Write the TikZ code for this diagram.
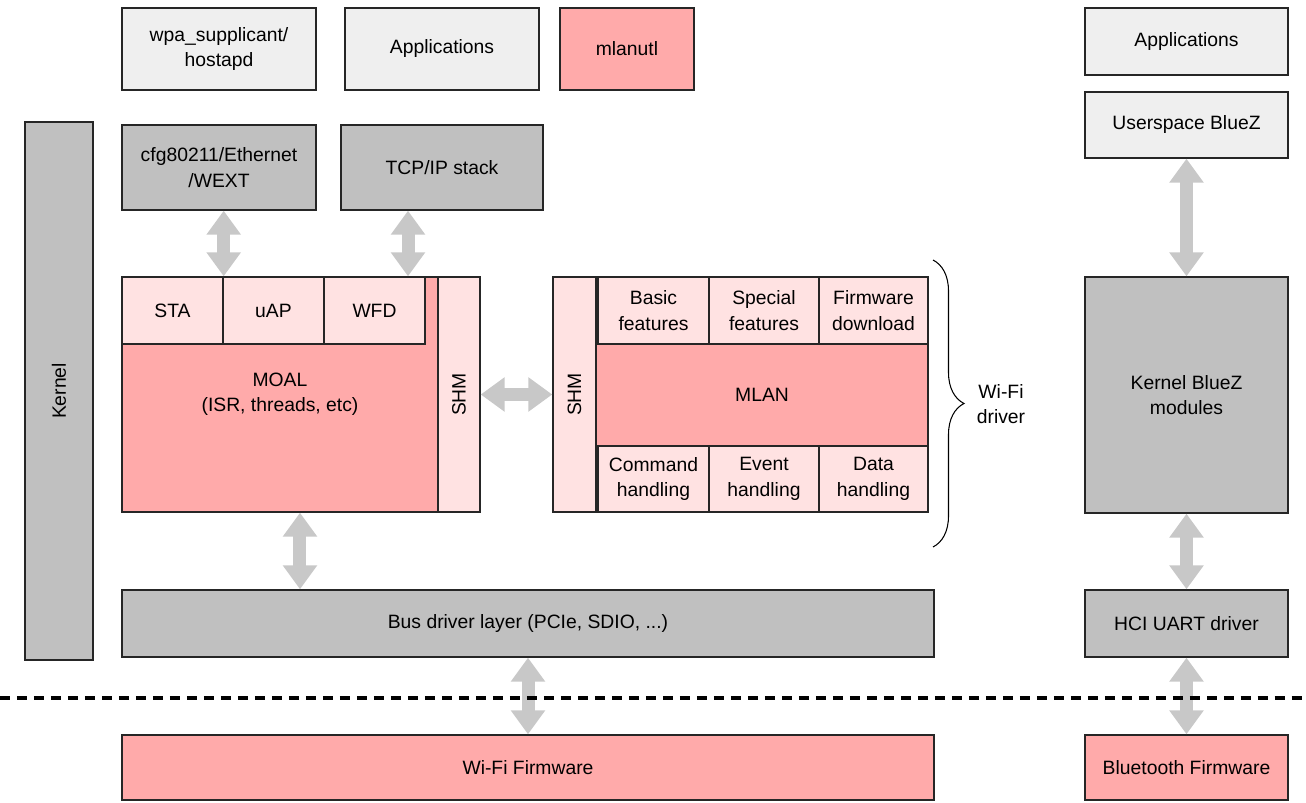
\documentclass[tikz,border=0pt]{standalone}
\usepackage{fontspec}
\setmainfont{Liberation Sans}
\usepackage{tikz}
\usetikzlibrary{arrows.meta, decorations.pathreplacing}

\definecolor{userbg}{HTML}{EFEFEF}
\definecolor{kernbg}{HTML}{C0C0C0}
\definecolor{drvbg}{HTML}{FFAAAA}
\definecolor{subbg}{HTML}{FFE2E2}
\definecolor{arrowgray}{HTML}{C8C8C8}

\tikzset{
	blk/.style={draw=black!85, line width=0.8pt, inner sep=0pt, align=center,
		font=\fontsize{11}{14.5}\selectfont},
	userblk/.style={blk, fill=userbg},
	kernblk/.style={blk, fill=kernbg},
	drvblk/.style={blk, fill=drvbg},
	subblk/.style={blk, fill=subbg},
	biarrow/.style={draw=arrowgray, line width=0.26cm,
		{Triangle[width=0.66cm,length=0.48cm]}-{Triangle[width=0.66cm,length=0.48cm]}},
}

\begin{document}
\begin{tikzpicture}[x=0.02cm, y=-0.02cm]
		\useasboundingbox (0,0) rectangle (1306,803);
		% userspace
		\node[userblk, minimum width=3.88cm, minimum height=1.64cm] (wpa) at (219,49) {wpa\_supplicant/\\hostapd};
		\node[userblk, minimum width=3.88cm, minimum height=1.64cm] (apps) at (442,49) {Applications};
		\node[drvblk, minimum width=2.68cm, minimum height=1.64cm] (mlanutl) at (627,49) {mlanutl};
		\node[userblk, minimum width=4.06cm, minimum height=1.34cm] (btapps) at (1186.5,41.5) {Applications};
		\node[userblk, minimum width=4.06cm, minimum height=1.32cm] (ublz) at (1186.5,125) {Userspace BlueZ};
		% kernel
		\node[kernblk, minimum width=1.36cm, minimum height=10.76cm] (kernel) at (59,391) {\rotatebox{90}{Kernel}};
		\node[kernblk, minimum width=3.88cm, minimum height=1.70cm] (cfg) at (219,167.5) {cfg80211/Ethernet\\/WEXT};
		\node[kernblk, minimum width=4.04cm, minimum height=1.70cm] (tcp) at (442,167.5) {TCP/IP stack};
		% MOAL
		\node[drvblk, minimum width=6.32cm, minimum height=4.70cm] (moal) at (280,394.5) {MOAL\\(ISR, threads, etc)};
		\node[subblk, minimum width=2.02cm, minimum height=1.34cm] (sta) at (172.5,310.5) {STA};
		\node[subblk, minimum width=2.02cm, minimum height=1.34cm] (uap) at (273.5,310.5) {uAP};
		\node[subblk, minimum width=2.02cm, minimum height=1.34cm] (wfd) at (374.5,310.5) {WFD};
		\node[subblk, minimum width=0.84cm, minimum height=4.70cm] (shmL) at (459,394.5) {\rotatebox{90}{SHM}};
		% MLAN
		\node[subblk, minimum width=0.86cm, minimum height=4.70cm] (shmR) at (574.5,394.5) {\rotatebox{90}{SHM}};
		\node[drvblk, minimum width=6.64cm, minimum height=4.70cm] (mlan) at (762,394.5) {MLAN};
		\node[subblk, minimum width=2.22cm, minimum height=1.34cm] (basic) at (653.5,310.5) {Basic\\features};
		\node[subblk, minimum width=2.20cm, minimum height=1.34cm] (special) at (764,310.5) {Special\\features};
		\node[subblk, minimum width=2.18cm, minimum height=1.34cm] (fwdl) at (873.5,310.5) {Firmware\\download};
		\node[subblk, minimum width=2.22cm, minimum height=1.32cm] (cmd) at (653.5,479) {Command\\handling};
		\node[subblk, minimum width=2.20cm, minimum height=1.32cm] (event) at (764,479) {Event\\handling};
		\node[subblk, minimum width=2.18cm, minimum height=1.32cm] (data) at (873.5,479) {Data\\handling};
		\draw[line width=0.6pt, decorate, decoration={brace, amplitude=0.62cm}] (933,260) -- (933,547);
		\node[align=center, font=\fontsize{11}{14.5}\selectfont] (wifidrv) at (1001,404) {Wi-Fi\\driver};
		% bluetooth kernel side
		\node[kernblk, minimum width=4.06cm, minimum height=4.72cm] (kbz) at (1186.5,395) {Kernel BlueZ\\modules};
		\node[kernblk, minimum width=16.24cm, minimum height=1.34cm] (bus) at (528,623.5) {Bus driver layer (PCIe, SDIO, ...)};
		\node[kernblk, minimum width=4.06cm, minimum height=1.34cm] (hci) at (1186.5,623.5) {HCI UART driver};
		% firmware
		\node[drvblk, minimum width=16.24cm, minimum height=1.30cm] (wififw) at (528,767.5) {Wi-Fi Firmware};
		\node[drvblk, minimum width=4.06cm, minimum height=1.30cm] (btfw) at (1186.5,767.5) {Bluetooth Firmware};

		\draw[biarrow] (cfg.south -| sta.north east) -- (sta.north east);
		\draw[biarrow] ([xshift=-0.68cm]tcp.south) -- ([xshift=-0.68cm]tcp.south |- wfd.north);
		\draw[biarrow] (shmL.east) -- (shmR.west);
		\draw[biarrow] ([xshift=0.4cm]moal.south) -- ([xshift=0.4cm]moal.south |- bus.north);
		\draw[biarrow] (bus.south) -- (wififw.north);
		\draw[biarrow] (ublz.south) -- (kbz.north);
		\draw[biarrow] (kbz.south) -- (hci.north);
		\draw[biarrow] (hci.south) -- (btfw.north);

		\coordinate (hwl) at (0,698);
		\coordinate (hwr) at (1306,698);
		\draw[line width=0.07cm, dash pattern=on 0.2cm off 0.14cm] (hwl) -- (hwr);
	\end{tikzpicture}
\end{document}
